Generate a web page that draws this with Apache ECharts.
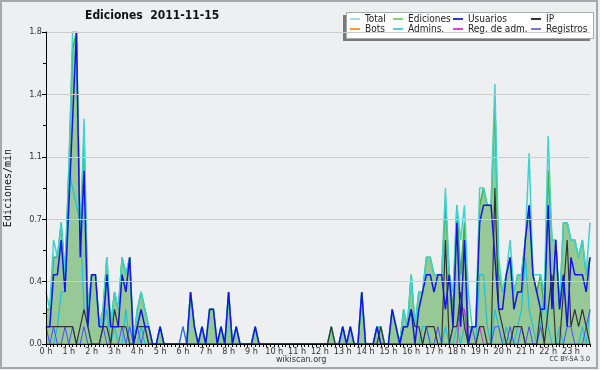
<!DOCTYPE html>
<html>
<head>
<meta charset="utf-8">
<script src="https://cdn.jsdelivr.net/npm/echarts@6/dist/echarts.min.js"></script>
<style>
html,body{margin:0;padding:0;background:#ffffff;}
#chart{width:600px;height:370px;}
</style>
</head>
<body>
<div id="chart"></div>
<script>
// Hour tick labels (each hour has 6 ten-minute bins)
const hourLabels = ["0 h","1 h","2 h","3 h","4 h","5 h","6 h","7 h","8 h","9 h","10 h","11 h",
  "12 h","13 h","14 h","15 h","16 h","17 h","18 h","19 h","20 h","21 h","22 h","23 h"];
const yTicks = [0, 0.36, 0.72, 1.08, 1.44, 1.8];

// Edits per minute, 10-minute bins (144 per day)
const total = [
  0.3,0.2,0.6,0.5,0.7,0.4, 1.0,1.8,1.8,0.6,1.3,0.2, 0.4,0.4,0.1,0.2,0.5,0.1, 0.3,0.2,0.5,0.4,0.5,0,
  0.2,0.3,0.2,0.1,0,0, 0.1,0,0,0,0,0, 0.1,0,0.3,0.1,0,0.1, 0,0.2,0.2,0,0.1,0,
  0.3,0,0.1,0,0,0, 0,0.1,0,0,0,0, 0,0,0,0,0,0, 0,0,0,0,0,0,
  0,0,0,0.1,0,0, 0.1,0,0.1,0,0,0.3, 0,0,0,0.1,0.1,0, 0,0.2,0.1,0,0.2,0.1,
  0.4,0.1,0.3,0.3,0.5,0.5, 0.4,0.4,0.4,0.9,0.4,0.3, 0.8,0.6,0.8,0.3,0.1,0.1, 0.9,0.9,0.8,0.8,1.5,0.5,
  0.3,0.4,0.6,0.3,0.4,0.4, 0.6,1.1,0.4,0.4,0.4,0.3, 1.2,0.6,0.6,0.2,0.7,0.7, 0.6,0.6,0.5,0.6,0.4,0.7
];
const ediciones = [
  0.2,0.2,0.5,0.5,0.7,0.4, 1.0,1.7,1.8,0.6,1.2,0.2, 0.4,0.4,0.1,0.2,0.5,0.1, 0.3,0.2,0.5,0.4,0.5,0,
  0.2,0.3,0.2,0.1,0,0, 0.1,0,0,0,0,0, 0,0,0.3,0.1,0,0.1, 0,0.2,0.2,0,0.1,0,
  0.3,0,0.1,0,0,0, 0,0.1,0,0,0,0, 0,0,0,0,0,0, 0,0,0,0,0,0,
  0,0,0,0.1,0,0, 0.1,0,0.1,0,0,0.3, 0,0,0,0.1,0.1,0, 0,0.2,0.1,0,0.2,0.1,
  0.4,0.1,0.3,0.3,0.5,0.5, 0.4,0.4,0.4,0.8,0.4,0.2, 0.8,0.4,0.7,0.1,0.1,0.1, 0.8,0.9,0.8,0.8,1.4,0.4,
  0.3,0.4,0.5,0.3,0.4,0.4, 0.6,0.8,0.4,0.3,0.4,0.2, 1.0,0.6,0.6,0.2,0.7,0.7, 0.6,0.6,0.5,0.6,0.4,0.5
];
const usuarios = [
  0.1,0.1,0.4,0.4,0.6,0.3, 0.8,1.3,1.8,0.5,1.0,0.1, 0.4,0.4,0.1,0.1,0.4,0.1, 0.1,0.1,0.4,0.3,0.5,0,
  0.1,0.2,0.1,0.1,0,0, 0.1,0,0,0,0,0, 0,0,0.3,0.1,0,0.1, 0,0.2,0.2,0,0.1,0,
  0.3,0,0.1,0,0,0, 0,0.1,0,0,0,0, 0,0,0,0,0,0, 0,0,0,0,0,0,
  0,0,0,0,0,0, 0.1,0,0.1,0,0,0.3, 0,0,0,0.1,0,0, 0,0.2,0.1,0,0.1,0.1,
  0.2,0,0.2,0.3,0.4,0.4, 0.3,0.4,0.4,0.2,0.4,0.1, 0.7,0.1,0.6,0,0.1,0.1, 0.7,0.8,0.8,0.8,0.5,0.2,
  0.2,0.4,0.5,0.2,0.3,0.3, 0.6,0.8,0.4,0.3,0.2,0.2, 0.8,0.2,0.6,0.2,0.4,0.1, 0.5,0.4,0.4,0.4,0.3,0.5
];
const ip = [
  0.1,0.1,0.1,0.1,0.1,0.1, 0.1,0.1,0,0.1,0.2,0.1, 0,0,0,0.1,0.1,0, 0.2,0.1,0.1,0.1,0,0,
  0.1,0.1,0.1,0,0,0, 0,0,0,0,0,0, 0,0,0,0,0,0, 0,0,0,0,0,0,
  0,0,0,0,0,0, 0,0,0,0,0,0, 0,0,0,0,0,0, 0,0,0,0,0,0,
  0,0,0,0.1,0,0, 0,0,0,0,0,0, 0,0,0,0,0.1,0, 0,0,0,0,0.1,0.1,
  0.2,0.1,0.1,0,0.1,0.1, 0.1,0,0,0.6,0,0.1, 0.1,0.3,0.1,0,0,0, 0.1,0.1,0,0,0.9,0.2,
  0.1,0,0,0.1,0.1,0.1, 0,0,0,0,0.2,0, 0.2,0.4,0,0,0.3,0.6, 0.1,0.2,0.1,0.2,0.1,0
];
const bots = [
  0,0,0,0,0,0, 0,0,0,0,0,0, 0,0,0,0,0,0, 0,0,0,0,0,0,
  0,0,0,0,0,0, 0,0,0,0,0,0, 0,0,0,0,0,0, 0,0,0,0,0,0,
  0,0,0,0,0,0, 0,0,0,0,0,0, 0,0,0,0,0,0, 0,0,0,0,0,0,
  0,0,0,0,0,0, 0,0,0,0,0,0, 0,0,0,0,0,0, 0,0,0,0,0,0,
  0,0,0,0,0,0, 0,0,0,0,0,0, 0,0,0,0,0,0, 0,0,0,0,0,0,
  0,0,0,0,0,0, 0,0,0,0,0,0, 0,0,0,0,0,0, 0,0,0,0,0,0
];
const admins = [
  0,0,0,0.1,0.3,0.3, 1.0,0.9,0.8,0.7,0.2,0.1, 0,0,0,0.1,0.2,0, 0.1,0,0,0.2,0,0,
  0,0.1,0,0,0,0, 0,0,0,0,0,0, 0,0,0,0,0,0, 0,0,0,0,0,0,
  0.3,0,0,0,0,0, 0,0,0,0,0,0, 0,0,0,0,0,0, 0,0,0,0,0,0,
  0,0,0,0,0,0, 0.1,0,0,0,0,0, 0,0,0,0,0,0, 0,0,0,0,0,0,
  0,0,0,0.1,0.1,0, 0,0,0,0.1,0,0, 0.1,0,0.1,0,0,0, 0.4,0.4,0.1,0,0.2,0.1,
  0,0.1,0,0,0.1,0.2, 0.5,0.2,0.1,0,0.1,0.3, 0.1,0,0,0.1,0,0, 0,0,0,0.1,0,0.2
];
const regAdm = [
  0,0,0,0,0,0, 0,0,0,0,0,0, 0,0,0,0,0,0, 0,0,0,0,0,0,
  0,0,0,0,0,0, 0,0,0,0,0,0, 0,0,0,0,0,0, 0,0,0,0,0,0,
  0,0,0,0,0,0, 0,0,0,0,0,0, 0,0,0,0,0,0, 0,0,0,0,0,0,
  0,0,0,0,0,0, 0,0,0,0,0,0, 0,0,0,0,0,0, 0,0,0,0,0,0,
  0,0,0,0,0,0, 0,0,0,0,0,0, 0,0.2,0.2,0,0,0, 0.1,0,0,0,0,0,
  0,0,0,0,0,0, 0,0,0,0,0,0, 0,0,0,0,0,0, 0,0,0,0,0,0
];
const registros = [
  0.1,0,0.1,0,0,0.1, 0,0.1,0,0,0.1,0, 0,0,0,0.1,0,0, 0,0,0.1,0,0.1,0,
  0.1,0,0.1,0,0,0, 0,0,0,0,0,0, 0.1,0,0,0,0,0, 0,0,0,0,0,0,
  0,0,0,0,0,0, 0,0,0,0,0,0, 0,0,0,0,0,0, 0,0,0,0,0,0,
  0,0,0,0,0,0, 0,0,0,0,0,0, 0,0,0,0,0,0, 0,0,0,0,0,0,
  0,0,0,0,0.1,0, 0,0.1,0,0,0,0.1, 0.1,0.2,0.2,0,0.1,0, 0,0,0,0,0.1,0.1,
  0,0,0.1,0,0,0.1, 0,0.1,0,0,0.1,0, 0,0,0,0,0,0.1, 0.1,0,0,0,0.1,0.2
];

// categories: one per 10-minute bin
const categories = [];
hourLabels.forEach(function (lab, h) {
  for (let k = 0; k < 6; k++) categories.push(k === 0 ? lab : (h + ':' + k + '0'));
});

const FONT = "'DejaVu Sans Condensed','DejaVu Sans',sans-serif";
const colors = {
  'Total': '#3fd3cf', 'Ediciones': '#3cb43c', 'Usuarios': '#1414e6', 'IP': '#333333',
  'Bots': '#ff9933', 'Admins.': '#1fc1d9', 'Reg. de adm.': '#cc33cc', 'Registros': '#4b4bff'
};
const legendColors = {
  'Total': '#aadddd', 'Ediciones': '#88cc88', 'Usuarios': '#3333dd', 'IP': '#333333',
  'Bots': '#ff9933', 'Admins.': '#55ccdd', 'Reg. de adm.': '#dd44dd', 'Registros': '#7777ee'
};
const legendPos = [
  ['Total', 350, 14], ['Ediciones', 393, 14], ['Usuarios', 453, 14], ['IP', 531, 14],
  ['Bots', 350, 24], ['Admins.', 393, 24], ['Reg. de adm.', 453, 24], ['Registros', 531, 24]
];

function lineSeries(name, data, width, z) {
  return {
    name: name, type: 'line', data: data, symbol: 'none', z: z,
    lineStyle: { color: colors[name], width: width },
    itemStyle: { color: colors[name] },
    emphasis: { disabled: true }, animation: false
  };
}

const series = [];
const ed = lineSeries('Ediciones', ediciones, 1.5, 2);
ed.areaStyle = { color: '#97c997', opacity: 1 };
series.push(lineSeries('Bots', bots, 1, 1));
series.push(ed);
series.push(lineSeries('Total', total, 1.5, 3));
series.push(lineSeries('Admins.', admins, 1.2, 4));
series.push(lineSeries('Registros', registros, 1, 5));
series.push(lineSeries('Reg. de adm.', regAdm, 1, 5));
series.push(lineSeries('IP', ip, 1.2, 6));
series.push(lineSeries('Usuarios', usuarios, 1.5, 7));

const chart = echarts.init(document.getElementById('chart'), null, { renderer: 'canvas' });
chart.setOption({
  backgroundColor: '#eeeff0',
  animation: false,
  title: {
    text: 'Ediciones  2011-11-15', left: 85, top: 10, padding: 0,
    textStyle: { fontFamily: FONT, fontSize: 12, fontWeight: 'bold', color: '#111' }
  },
  grid: { left: 46, right: 10, top: 32, bottom: 26, containLabel: false, outerBoundsMode: 'none' },
  legend: legendPos.map(function (p) {
    return {
      data: [{ name: p[0], itemStyle: { color: legendColors[p[0]] } }],
      left: p[1], top: p[2], padding: 0, itemWidth: 10, itemHeight: 2, itemGap: 0,
      icon: 'rect', selectedMode: false,
      textStyle: { fontFamily: FONT, fontSize: 10, color: '#222', padding: 0 }
    };
  }),
  xAxis: {
    type: 'category', data: categories, boundaryGap: false, z: 10,
    axisLine: { lineStyle: { color: '#000', width: 1 } },
    axisTick: { interval: 0, length: 3, lineStyle: { color: '#000' } },
    axisLabel: { interval: 5, fontFamily: FONT, fontSize: 9, color: '#333', margin: 3 },
    splitLine: { show: false }
  },
  yAxis: {
    type: 'value', min: yTicks[0], max: yTicks[yTicks.length - 1], interval: yTicks[1], z: 10,
    name: 'Ediciones/min', nameLocation: 'middle', nameGap: 33, nameRotate: 90,
    nameTextStyle: { fontFamily: "'DejaVu Sans Mono',monospace", fontSize: 10, color: '#111' },
    axisLine: { show: true, lineStyle: { color: '#000', width: 1 } },
    axisTick: { show: true, length: 4, lineStyle: { color: '#000' } },
    minorTick: { show: true, splitNumber: 2, length: 3, lineStyle: { color: '#000' } },
    axisLabel: {
      fontFamily: FONT, fontSize: 9, color: '#333', margin: 4,
      formatter: function (v) { return v.toFixed(1); }
    },
    splitLine: { show: true, lineStyle: { color: '#cccccc', width: 1 } }
  },
  graphic: [
    { type: 'rect', z: 0, shape: { x: 343, y: 15, width: 247, height: 26 }, style: { fill: '#7a7a7a' } },
    { type: 'rect', z: 1, shape: { x: 346.5, y: 12.5, width: 247, height: 26 }, style: { fill: '#ffffff', stroke: '#aaaaaa', lineWidth: 1 } },
    { type: 'text', z: 5, left: 276, top: 355, style: { text: 'wikiscan.org', font: "9px 'DejaVu Sans Condensed','DejaVu Sans',sans-serif", fill: '#333' } },
    { type: 'text', z: 5, right: 10, top: 356, style: { text: 'CC BY-SA 3.0', font: "7px 'DejaVu Sans Condensed','DejaVu Sans',sans-serif", fill: '#333' } },
    { type: 'rect', z: 20, shape: { x: 1, y: 1, width: 596, height: 367 }, style: { fill: 'none', stroke: '#a8a8a8', lineWidth: 2 } }
  ],
  series: series
});
</script>
</body>
</html>
